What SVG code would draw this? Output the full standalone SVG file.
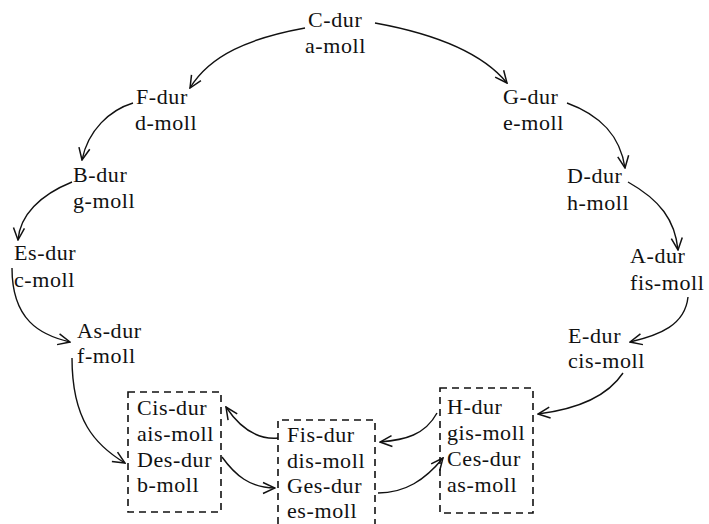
<svg xmlns="http://www.w3.org/2000/svg" width="709" height="524" viewBox="0 0 709 524">
<style>
.t{font-size:22px;fill:#111;letter-spacing:0.6px}
.c{fill:none;stroke:#111;stroke-width:1.4;marker-end:url(#ah)}
.box{fill:none;stroke:#111;stroke-width:1.6;stroke-dasharray:7 5}
</style>
<defs>
<marker id="ah" viewBox="0 0 14 14" refX="13" refY="7" markerWidth="14" markerHeight="14" markerUnits="userSpaceOnUse" orient="auto">
<path d="M1,1.5 L13,7 L1,12.5" fill="none" stroke="#111" stroke-width="1.5"/>
</marker>
</defs>
<rect width="709" height="524" fill="#fff"/>
<g id="connectors">
<path class="c" d="M305,28 C250,38 210,55 190,88"/>
<path class="c" d="M375,23 C430,33 480,50 507,83"/>
<path class="c" d="M133,103 C110,110 88,130 82,160"/>
<path class="c" d="M567,103 C600,115 620,135 625,168"/>
<path class="c" d="M72,182 C40,195 20,215 18,240"/>
<path class="c" d="M628,182 C660,200 675,220 678,250"/>
<path class="c" d="M12,268 C12,320 40,335 70,342"/>
<path class="c" d="M688,297 C685,325 660,335 630,342"/>
<path class="c" d="M72,358 C72,420 95,445 125,463"/>
<path class="c" d="M623,373 C605,400 570,410 538,414"/>
<path class="c" d="M437,413 C425,435 405,440 380,442"/>
<path class="c" d="M278,438 C255,440 238,425 226,407"/>
<path class="c" d="M222,457 C235,475 250,488 275,488"/>
<path class="c" d="M378,493 C405,493 425,480 443,458"/>
</g>
<g class="t" font-family="Liberation Serif, serif">
<g id="n-c"><text x="308" y="27">C-dur</text><text x="305" y="53">a-moll</text></g>
<g id="n-f"><text x="136" y="104">F-dur</text><text x="135" y="130">d-moll</text></g>
<g id="n-g"><text x="503" y="104">G-dur</text><text x="503" y="130">e-moll</text></g>
<g id="n-b"><text x="73" y="182">B-dur</text><text x="73" y="208">g-moll</text></g>
<g id="n-d"><text x="567" y="183">D-dur</text><text x="567" y="210">h-moll</text></g>
<g id="n-es"><text x="14" y="260">Es-dur</text><text x="14" y="287">c-moll</text></g>
<g id="n-a"><text x="630" y="263">A-dur</text><text x="630" y="290">fis-moll</text></g>
<g id="n-as"><text x="77" y="338">As-dur</text><text x="77" y="363">f-moll</text></g>
<g id="n-e"><text x="568" y="343">E-dur</text><text x="568" y="368">cis-moll</text></g>
<g id="n-cis">
<rect class="box" x="128" y="392" width="93" height="120"/>
<text x="137" y="415">Cis-dur</text><text x="137" y="441">ais-moll</text><text x="137" y="467">Des-dur</text><text x="137" y="492">b-moll</text>
</g>
<g id="n-fis">
<path class="box" d="M278,524 V420 H375 V524"/>
<text x="287" y="442">Fis-dur</text><text x="287" y="468">dis-moll</text><text x="287" y="493">Ges-dur</text><text x="287" y="518">es-moll</text>
</g>
<g id="n-h">
<rect class="box" x="440" y="388" width="93" height="125"/>
<text x="447" y="414">H-dur</text><text x="447" y="440">gis-moll</text><text x="447" y="466">Ces-dur</text><text x="447" y="492">as-moll</text>
</g>
</g>
</svg>
